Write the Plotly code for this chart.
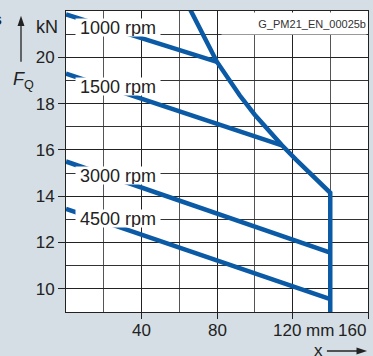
import plotly.graph_objects as go

# --- Data ------------------------------------------------------------------
speed_labels = ["1000 rpm", "1500 rpm", "3000 rpm", "4500 rpm"]
speed_x = [[0, 80], [0, 114.4], [0, 140], [0, 140]]
speed_force = [[21.85, 19.8], [19.3, 16.2], [15.5, 11.56], [13.45, 9.56]]

# limiting curve (max permissible radial force) incl. vertical limit at x = 140 mm
limit_x = [64, 66.3, 70, 75, 80, 86, 92, 100, 107, 114.4, 122, 130, 140, 140]
limit_force = [22.35, 22.0, 21.4, 20.6, 19.8, 19.05, 18.36, 17.52, 16.86,
               16.2, 15.57, 14.93, 14.15, 9.0]

x_tick_vals = [40, 80, 120, 160]
x_tick_text = ["40", "80", "120 mm", "160"]
y_tick_vals = [10, 12, 14, 16, 18, 20]
y_tick_text = ["10", "12", "14", "16", "18", "20"]

# --- Style -------------------------------------------------------------------
blue = "#0b5aa6"
bg = "#d5dee5"
ink = "#222"
font = "Liberation Sans, Arial, sans-serif"

fig = go.Figure()

for xs, ys in zip(speed_x, speed_force):
    fig.add_trace(go.Scatter(x=xs, y=ys, mode="lines",
                             line=dict(color=blue, width=4.5), showlegend=False))

fig.add_trace(go.Scatter(x=limit_x, y=limit_force, mode="lines",
                         line=dict(color=blue, width=4.5), showlegend=False))

# speed labels with white boxes that interrupt lines and grid
label_pos = [(27.6, 21.27), (27.6, 18.75), (27.6, 14.91), (27.6, 13.02)]
for txt, (lx, ly) in zip(speed_labels, label_pos):
    fig.add_annotation(x=lx, y=ly, xref="x", yref="y", text=txt, showarrow=False,
                       font=dict(family=font, size=18, color=ink),
                       bgcolor="white", width=84, height=17, borderpad=0)

# drawing number in a white box over the top-right cells
fig.add_annotation(x=1, y=1, xref="paper", yref="paper", text="G_PM21_EN_00025b",
                   showarrow=False, xanchor="right", yanchor="top", xshift=-1, yshift=-1,
                   width=144, height=21, align="right", valign="middle", borderpad=0,
                   bgcolor="white", font=dict(family=font, size=11, color="#333"))

# x tick labels (placed like the original drawing)
x_label_shift = [0, 0, 11, -16]
for v, t, s in zip(x_tick_vals, x_tick_text, x_label_shift):
    fig.add_annotation(x=v, y=0, xref="x", yref="paper", text=t, showarrow=False,
                       xshift=s, yshift=-18, yanchor="middle",
                       font=dict(family=font, size=17, color=ink))

# axis captions (paper coords, plot area spans 302 x 301 px)
fig.add_annotation(x=-0.02, y=0.947, xref="paper", yref="paper", text="kN", showarrow=False,
                   xanchor="right", yanchor="middle",
                   font=dict(family=font, size=18, color=ink))
fig.add_annotation(x=-0.14, y=0.77, xref="paper", yref="paper",
                   text="<i>F</i><sub>Q</sub>", showarrow=False,
                   xanchor="center", yanchor="middle",
                   font=dict(family=font, size=18, color=ink))
fig.add_annotation(x=1, y=0, xref="paper", yref="paper", text="x", showarrow=False,
                   xanchor="center", yanchor="middle", xshift=-50, yshift=-38,
                   font=dict(family=font, size=17, color=ink))
fig.add_annotation(x=0, y=1, xref="paper", yref="paper", text="<b>s</b>", showarrow=False,
                   xanchor="right", yanchor="middle", xshift=-62, yshift=-8,
                   font=dict(family=font, size=16, color=ink))

# axis arrows drawn as shapes on the paper
fig.add_shape(type="line", xref="paper", yref="paper", x0=-0.149, x1=-0.149,
              y0=0.831, y1=0.96, line=dict(color=ink, width=1.3))
fig.add_shape(type="path", xref="paper", yref="paper",
              path="M -0.149,0.984 L -0.1605,0.950 L -0.1375,0.950 Z",
              fillcolor=ink, line_width=0)
fig.add_shape(type="line", xref="paper", yref="paper", x0=0.864, x1=0.975,
              y0=-0.1296, y1=-0.1296, line=dict(color=ink, width=1.3))
fig.add_shape(type="path", xref="paper", yref="paper",
              path="M 0.997,-0.1296 L 0.962,-0.1412 L 0.962,-0.118 Z",
              fillcolor=ink, line_width=0)

fig.update_layout(
    width=373, height=356,
    margin=dict(l=66, r=5, t=11, b=44),
    paper_bgcolor=bg, plot_bgcolor="white",
    font=dict(family=font, size=17, color=ink),
    xaxis=dict(range=[0, 160], tickvals=x_tick_vals, ticktext=x_tick_text,
               showticklabels=False, ticks="outside", ticklen=6, tickcolor=ink,
               showgrid=True, gridcolor=ink, gridwidth=1,
               minor=dict(dtick=20, tick0=0, showgrid=True, gridcolor="#555",
                          gridwidth=1, ticks=""),
               showline=True, linecolor=ink, linewidth=1, mirror=True, zeroline=False),
    yaxis=dict(range=[9, 22], tickvals=y_tick_vals, ticktext=y_tick_text,
               ticks="outside", ticklen=7, tickcolor=ink,
               tickfont=dict(family=font, size=17, color=ink),
               showgrid=True, gridcolor=ink, gridwidth=1,
               minor=dict(dtick=1, tick0=0, showgrid=True, gridcolor="#333",
                          gridwidth=1, ticks=""),
               showline=True, linecolor=ink, linewidth=1, mirror=True, zeroline=False),
)

fig.write_html("out.html", config={"displayModeBar": False},
               post_script="document.body.style.margin='0';"
                           "document.body.style.background='" + bg + "';")
